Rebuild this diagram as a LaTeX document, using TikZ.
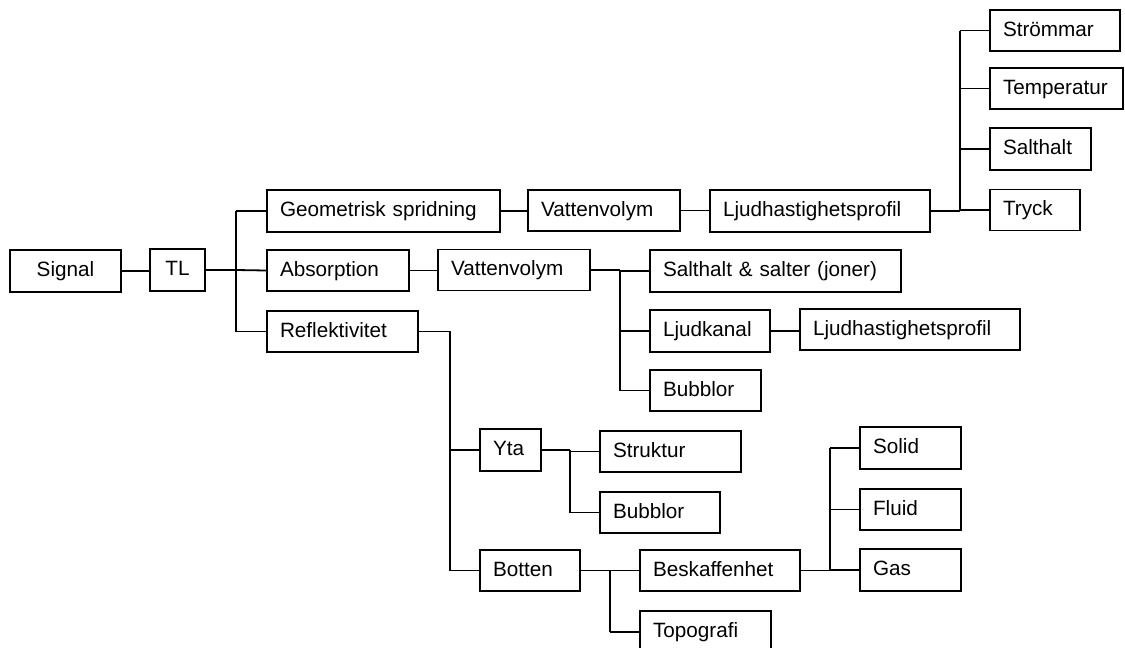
\documentclass[tikz,border=0pt]{standalone}
\usepackage{fontspec}
\setmainfont{Liberation Sans}
\tikzset{
  bx/.style={draw, line width=1.8pt, inner xsep=13pt, inner ysep=0pt,
    text height=15pt, text depth=4pt, align=left,
    font=\fontsize{20.7}{24}\selectfont},
  cbx/.style={bx, align=center},
  ln/.style={line width=1.8pt}
}
\begin{document}
\begin{tikzpicture}[x=1pt,y=-1pt]
\useasboundingbox (0,0) rectangle (1125,648);
\clip (0,0) rectangle (1125,648);
% nodes
\node[cbx, text width=85pt, minimum height=42pt] (signal) at (65.5,271) {Signal};
\node[cbx, text width=29pt, minimum height=42pt] (tl) at (177.5,270) {TL};
\node[bx, text width=207pt, minimum height=42pt] (geo) at (383.5,211) {Geometrisk spridning};
\node[bx, text width=116pt, minimum height=41pt] (abs) at (338,270.5) {Absorption};
\node[bx, text width=125pt, minimum height=41pt] (refl) at (342.5,331.5) {Reflektivitet};
\node[bx, text width=126pt, minimum height=41pt] (vv1) at (604,210.5) {Vattenvolym};
\node[bx, text width=194pt, minimum height=42pt] (lhp1) at (820,211) {Ljudhastighetsprofil};
\node[bx, text width=104pt, minimum height=41pt] (strom) at (1055,30.5) {Strömmar};
\node[bx, text width=107pt, minimum height=41pt] (temp) at (1056.5,88.5) {Temperatur};
\node[bx, text width=75pt, minimum height=42pt] (salt) at (1040.5,149) {Salthalt};
\node[bx, text width=64pt, minimum height=41pt] (tryck) at (1035,210) {Tryck};
\node[bx, text width=126pt, minimum height=41pt] (vv2) at (514,270) {Vattenvolym};
\node[bx, text width=225pt, minimum height=42pt] (ss) at (775.5,271) {Salthalt \& salter (joner)};
\node[bx, text width=94pt, minimum height=42pt] (lk) at (710,331) {Ljudkanal};
\node[bx, text width=194pt, minimum height=41pt] (lhp2) at (910,329.5) {Ljudhastighetsprofil};
\node[bx, text width=85pt, minimum height=41pt] (bub1) at (705.5,390.5) {Bubblor};
\node[bx, text width=35pt, minimum height=42pt] (yta) at (510.5,450) {Yta};
\node[bx, text width=115pt, minimum height=41pt] (strk) at (670.5,451.5) {Struktur};
\node[bx, text width=94pt, minimum height=41pt] (bub2) at (660,512.5) {Bubblor};
\node[bx, text width=74pt, minimum height=41pt] (botten) at (530,570.5) {Botten};
\node[bx, text width=134pt, minimum height=41pt] (besk) at (720,570.5) {Beskaffenhet};
\node[bx, text width=105pt, minimum height=42pt] (topo) at (705.5,632) {Topografi};
\node[bx, text width=75pt, minimum height=42pt] (solid) at (910.5,448) {Solid};
\node[bx, text width=75pt, minimum height=41pt] (fluid) at (910.5,509.5) {Fluid};
\node[bx, text width=75pt, minimum height=42pt] (gas) at (910.5,570) {Gas};
% bus coordinates
\coordinate (b1) at (236,270);
\coordinate (b2) at (960,210);
\coordinate (b3) at (620,270);
\coordinate (b4) at (450,331);
\coordinate (b5) at (570,450);
\coordinate (b6) at (610,570);
\coordinate (b7) at (830,570);
% connectors
\draw[ln] (signal.east) -- (signal.east -| tl.west);
\draw[ln] (tl.east) -- (b1);
\draw[ln] (b1 |- geo) -- (b1 |- refl);
\draw[ln] (b1 |- geo) -- (geo.west);
\draw[ln] (b1) -- (abs.west);
\draw[ln] (b1 |- refl) -- (refl.west);
\draw[ln] (geo.east) -- (geo.east -| vv1.west);
\draw[ln] (vv1.east) -- (vv1.east -| lhp1.west);
\draw[ln] (lhp1.east) -- (b2 |- lhp1);
\draw[ln] (b2 |- strom) -- (b2 |- lhp1);
\draw[ln] (b2 |- strom) -- (strom.west);
\draw[ln] (b2 |- temp) -- (temp.west);
\draw[ln] (b2 |- salt) -- (salt.west);
\draw[ln] (b2 |- tryck) -- (tryck.west);
\draw[ln] (abs.east) -- (abs.east -| vv2.west);
\draw[ln] (vv2.east) -- (b3 |- vv2);
\draw[ln] (b3 |- vv2) -- (b3 |- bub1);
\draw[ln] (b3 |- ss) -- (ss.west);
\draw[ln] (b3 |- lk) -- (lk.west);
\draw[ln] (b3 |- bub1) -- (bub1.west);
\draw[ln] (lk.east) -- (lk.east -| lhp2.west);
\draw[ln] (refl.east) -- (b4 |- refl) -- (b4 |- botten);
\draw[ln] (b4 |- yta) -- (yta.west);
\draw[ln] (b4 |- botten) -- (botten.west);
\draw[ln] (yta.east) -- (b5 |- yta);
\draw[ln] (b5 |- yta) -- (b5 |- bub2);
\draw[ln] (b5 |- strk) -- (strk.west);
\draw[ln] (b5 |- bub2) -- (bub2.west);
\draw[ln] (botten.east) -- (b6 |- botten);
\draw[ln] (b6 |- botten) -- (b6 |- topo);
\draw[ln] (b6 |- besk) -- (besk.west);
\draw[ln] (b6 |- topo) -- (topo.west);
\draw[ln] (besk.east) -- (b7 |- besk);
\draw[ln] (b7 |- solid) -- (b7 |- gas);
\draw[ln] (b7 |- solid) -- (solid.west);
\draw[ln] (b7 |- fluid) -- (fluid.west);
\draw[ln] (b7 |- gas) -- (gas.west);
\end{tikzpicture}
\end{document}
